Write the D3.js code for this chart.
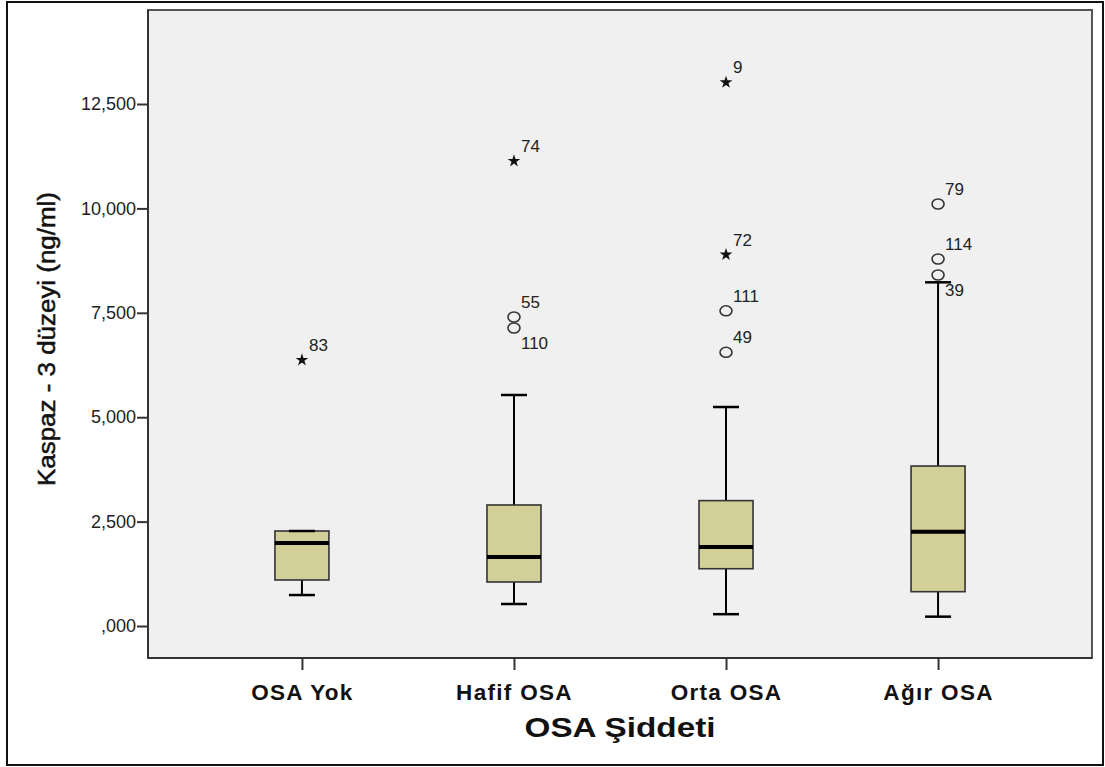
<!DOCTYPE html>
<html>
<head>
<meta charset="utf-8">
<script src="https://cdn.jsdelivr.net/npm/d3@7"></script>
<style>
  body { margin: 0; background: #fff; }
  svg text { font-family: Arial, "Liberation Sans", sans-serif; }
</style>
</head>
<body>
<svg id="chart" width="1105" height="767"></svg>
<script>
// ---------- data ----------
const categories = ["OSA Yok", "Hafif OSA", "Orta OSA", "Ağır OSA"];
const whiskerLow  = [0.742, 0.527, 0.283, 0.224];
const q1          = [1.102, 1.054, 1.372, 0.822];
const median      = [1.988, 1.652, 1.894, 2.259];
const q3          = [2.275, 2.898, 3.003, 3.831];
const whiskerHigh = [2.275, 5.532, 5.244, 8.230];

// outliers: category index, value, case id, kind (circle = outlier, star = extreme), label side
const outCat   = [0,     1,      1,     1,      2,     2,     2,     2,      3,     3,     3];
const outVal   = [6.370, 11.135, 7.400, 7.136,  6.554, 7.548, 8.894, 13.018, 8.405, 8.788, 10.105];
const outId    = ["83",  "74",   "55",  "110",  "49",  "111", "72",  "9",    "39",  "114", "79"];
const outKind  = ["star","star", "circle","circle","circle","circle","star","star","circle","circle","circle"];
const outSide  = ["up",  "up",   "up",  "down", "up",  "up",  "up",  "up",   "down","up",  "up"];

const yTickValues = [0, 2.5, 5, 7.5, 10, 12.5];
const yTickLabels = [",000", "2,500", "5,000", "7,500", "10,000", "12,500"];

const yTitle = "Kaspaz - 3 düzeyi (ng/ml)";
const xTitle = "OSA Şiddeti";

// ---------- layout ----------
const svg = d3.select("#chart");
const plot = { left: 148, right: 1092, top: 10, bottom: 658 };

const x = d3.scalePoint().domain(categories).range([plot.left, plot.right]).padding(0.726);
const y = d3.scaleLinear().domain([-0.766, 14.751]).range([plot.bottom, plot.top]);

const boxW = 54, capW = 26;
const boxFill = "#d3cf98";

// outer frame
svg.append("rect").attr("x", 7).attr("y", 2).attr("width", 1096).attr("height", 763)
  .attr("fill", "#fff").attr("stroke", "#111").attr("stroke-width", 2);

// plot background
svg.append("rect").attr("x", plot.left).attr("y", plot.top)
  .attr("width", plot.right - plot.left).attr("height", plot.bottom - plot.top)
  .attr("fill", "#f0f0f0").attr("stroke", "#555").attr("stroke-width", 2);

// y axis
const yAxis = d3.axisLeft(y).tickValues(yTickValues)
  .tickFormat((d, i) => yTickLabels[i]).tickSize(11).tickSizeOuter(0).tickPadding(1);
const gy = svg.append("g").attr("transform", `translate(${plot.left},0)`).call(yAxis);
gy.select(".domain").attr("stroke", "#333").attr("stroke-width", 2)
  .attr("d", `M0,${plot.top}V${plot.bottom}`);
gy.selectAll(".tick line").attr("stroke", "#333").attr("stroke-width", 2);
gy.selectAll(".tick text").attr("font-size", 18).attr("fill", "#222")
  .attr("font-family", "Arial, 'Liberation Sans', sans-serif");

// x axis
const xAxis = d3.axisBottom(x).tickSize(12).tickSizeOuter(0).tickPadding(6);
const gx = svg.append("g").attr("transform", `translate(0,${plot.bottom})`).call(xAxis);
gx.select(".domain").attr("stroke", "#333").attr("stroke-width", 2)
  .attr("d", `M${plot.left},0H${plot.right}`);
gx.selectAll(".tick line").attr("stroke", "#333").attr("stroke-width", 2);
gx.selectAll(".tick text").attr("font-size", 22.5).attr("font-weight", "bold")
  .attr("fill", "#111").attr("letter-spacing", 1.3).attr("dy", "1.05em")
  .attr("font-family", "Arial, 'Liberation Sans', sans-serif");

// boxes
const g = svg.append("g");
categories.forEach((c, i) => {
  const cx = x(c);
  g.append("line").attr("x1", cx).attr("x2", cx).attr("y1", y(q3[i])).attr("y2", y(whiskerHigh[i]))
    .attr("stroke", "#000").attr("stroke-width", 2);
  g.append("line").attr("x1", cx).attr("x2", cx).attr("y1", y(q1[i])).attr("y2", y(whiskerLow[i]))
    .attr("stroke", "#000").attr("stroke-width", 2);
  g.append("rect").attr("x", cx - boxW / 2).attr("y", y(q3[i]))
    .attr("width", boxW).attr("height", y(q1[i]) - y(q3[i]))
    .attr("fill", boxFill).attr("stroke", "#333").attr("stroke-width", 1.6);
  [whiskerLow[i], whiskerHigh[i]].forEach(v => {
    g.append("line").attr("x1", cx - capW / 2).attr("x2", cx + capW / 2)
      .attr("y1", y(v)).attr("y2", y(v)).attr("stroke", "#000").attr("stroke-width", 2.5);
  });
  g.append("line").attr("x1", cx - boxW / 2).attr("x2", cx + boxW / 2)
    .attr("y1", y(median[i])).attr("y2", y(median[i]))
    .attr("stroke", "#000").attr("stroke-width", 4);
});

// outliers
const star = d3.symbol().type(d3.symbolStar).size(50);
outVal.forEach((v, k) => {
  const cx = x(categories[outCat[k]]), cy = y(v);
  if (outKind[k] === "star") {
    g.append("path").attr("d", star()).attr("transform", `translate(${cx},${cy})`).attr("fill", "#111");
  } else {
    g.append("ellipse").attr("cx", cx).attr("cy", cy).attr("rx", 6).attr("ry", 5)
      .attr("fill", "none").attr("stroke", "#333").attr("stroke-width", 1.6);
  }
  g.append("text").attr("x", cx + 7).attr("y", outSide[k] === "up" ? cy - 9 : cy + 21)
    .attr("font-size", 17).attr("fill", "#222").text(outId[k]);
});

// titles
svg.append("text").attr("x", (plot.left + plot.right) / 2).attr("y", 737)
  .attr("text-anchor", "middle").attr("font-size", 28).attr("font-weight", "bold")
  .attr("fill", "#111").attr("textLength", 191).attr("lengthAdjust", "spacingAndGlyphs")
  .text(xTitle);

svg.append("text").attr("transform", "translate(55,339) rotate(-90)")
  .attr("text-anchor", "middle").attr("font-size", 23).attr("fill", "#111")
  .attr("stroke", "#111").attr("stroke-width", 0.5)
  .attr("textLength", 294).attr("lengthAdjust", "spacingAndGlyphs")
  .text(yTitle);
</script>
</body>
</html>
